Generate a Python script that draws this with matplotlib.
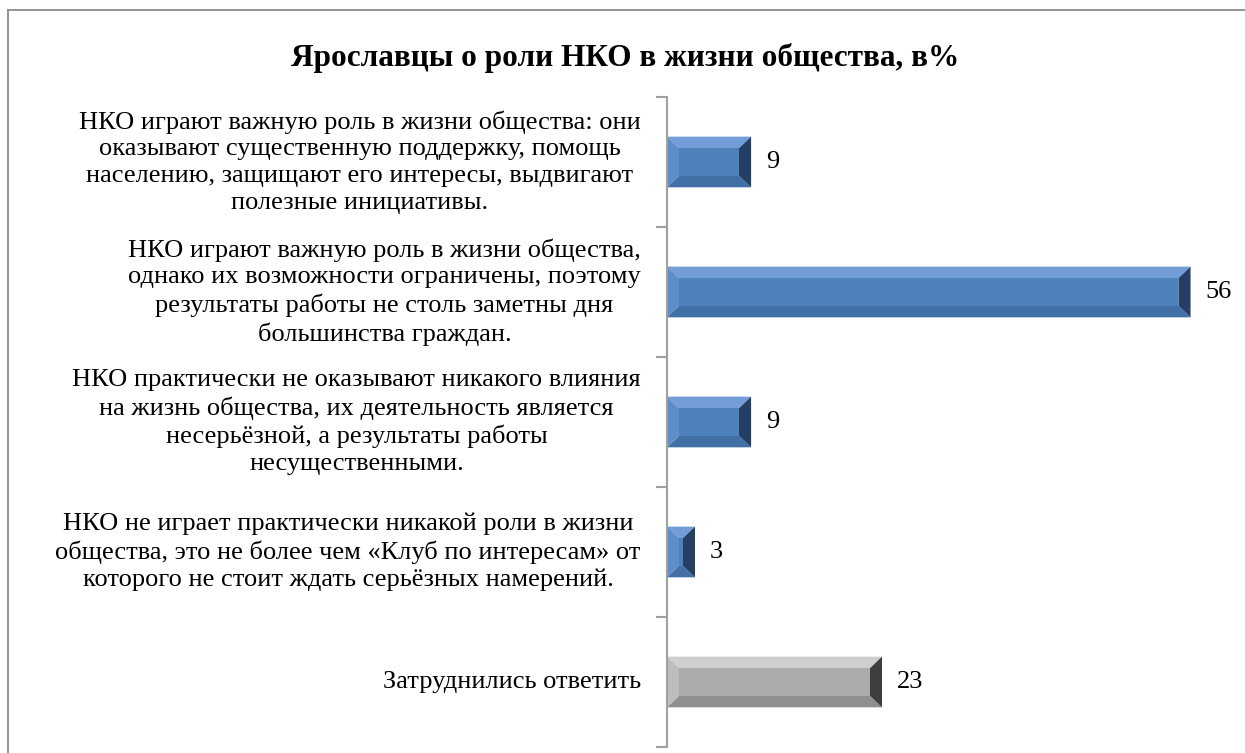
import matplotlib
matplotlib.use("Agg")
import matplotlib.pyplot as plt
from matplotlib.lines import Line2D
from matplotlib.patches import Polygon

TITLE = "Ярославцы о роли НКО в жизни общества, в%"
CATEGORIES = [
    "НКО играют важную роль в жизни общества: они\n"
    "оказывают существенную поддержку, помощь\n"
    "населению, защищают его интересы, выдвигают\n"
    "полезные инициативы.",
    "НКО играют важную роль в жизни общества,\n"
    "однако их возможности ограничены, поэтому\n"
    "результаты работы не столь заметны дня\n"
    "большинства граждан.",
    "НКО практически не оказывают никакого влияния\n"
    "на жизнь общества, их деятельность является\n"
    "несерьёзной, а результаты работы\n"
    "несущественными.",
    "НКО не играет практически никакой роли в жизни\n"
    "общества, это не более чем «Клуб по интересам» от\n"
    "которого не стоит ждать серьёзных намерений.",
    "Затруднились ответить",
]
VALUES = [9, 56, 9, 3, 23]
IS_GREY = [False, False, False, False, True]

BLUE = {"face": "#4F81BD", "top": "#729DD6", "left": "#5D8DCA",
        "bottom": "#416FA6", "right": "#243F63"}
GREY = {"face": "#ABABAB", "top": "#CFCFCF", "left": "#BDBDBD",
        "bottom": "#8F8F8F", "right": "#3E3E3E"}

plt.rcParams["font.family"] = ["Liberation Serif", "DejaVu Serif"]

fig = plt.figure(figsize=(12.45, 7.53), dpi=100)
ax = fig.add_axes([0.5357, 0.008, 0.4506, 0.8632])

n = len(VALUES)
positions = list(range(n))
bar_h = 0.39
bars = ax.barh(positions, VALUES, height=bar_h, color="none", edgecolor="none")
ax.set_xlim(0, 60)
ax.set_ylim(n - 0.5, -0.5)

# bevel effect: face plus four trapezoid edges
for bar, grey in zip(bars, IS_GREY):
    c = GREY if grey else BLUE
    x0, y0 = bar.get_x(), bar.get_y()
    w, h = bar.get_width(), bar.get_height()
    x1, y1 = x0 + w, y0 + h
    dx = min(1.3, w / 2)
    dy = min(0.09, h / 2)
    ix0, ix1 = x0 + dx, x1 - dx
    iy0, iy1 = y0 + dy, y1 - dy
    # y axis inverted: y0 is visual top
    ax.add_patch(Polygon([(x0, y0), (x1, y0), (ix1, iy0), (ix0, iy0)],
                         color=c["top"], lw=0))
    ax.add_patch(Polygon([(x0, y1), (x1, y1), (ix1, iy1), (ix0, iy1)],
                         color=c["bottom"], lw=0))
    ax.add_patch(Polygon([(x0, y0), (ix0, iy0), (ix0, iy1), (x0, y1)],
                         color=c["left"], lw=0))
    ax.add_patch(Polygon([(x1, y0), (ix1, iy0), (ix1, iy1), (x1, y1)],
                         color=c["right"], lw=0))
    ax.add_patch(Polygon([(ix0, iy0), (ix1, iy0), (ix1, iy1), (ix0, iy1)],
                         color=c["face"], lw=0))
    ax.text(x1 + 1.6, bar.get_y() + h / 2, str(int(w)), ha="left",
            va="center", fontsize=19)

for spine in ["top", "right", "bottom"]:
    ax.spines[spine].set_visible(False)
ax.spines["left"].set_color("#A0A0A0")
ax.spines["left"].set_linewidth(1.5)
ax.set_xticks([])
ax.set_yticks([p - 0.5 for p in positions] + [n - 0.5])
ax.set_yticklabels([])
ax.tick_params(axis="y", length=8, width=1.5, color="#A0A0A0")

for p, label in zip(positions, CATEGORIES):
    ax.text(-2.8, p, label, ha="right", va="center", multialignment="center",
            fontsize=19, linespacing=1.28)

fig.text(0.502, 0.923, TITLE, ha="center", va="center", fontsize=22.5,
         fontweight="bold")

# chart frame (left and top edges visible)
frame_x = 8 / 1245
frame_y = 1 - 10 / 753
fig.add_artist(Line2D([frame_x, 1], [frame_y, frame_y], color="#8C8C8C", lw=1.3))
fig.add_artist(Line2D([frame_x, frame_x], [0, frame_y], color="#8C8C8C", lw=1.3))

fig.savefig("out.png", dpi=100)
